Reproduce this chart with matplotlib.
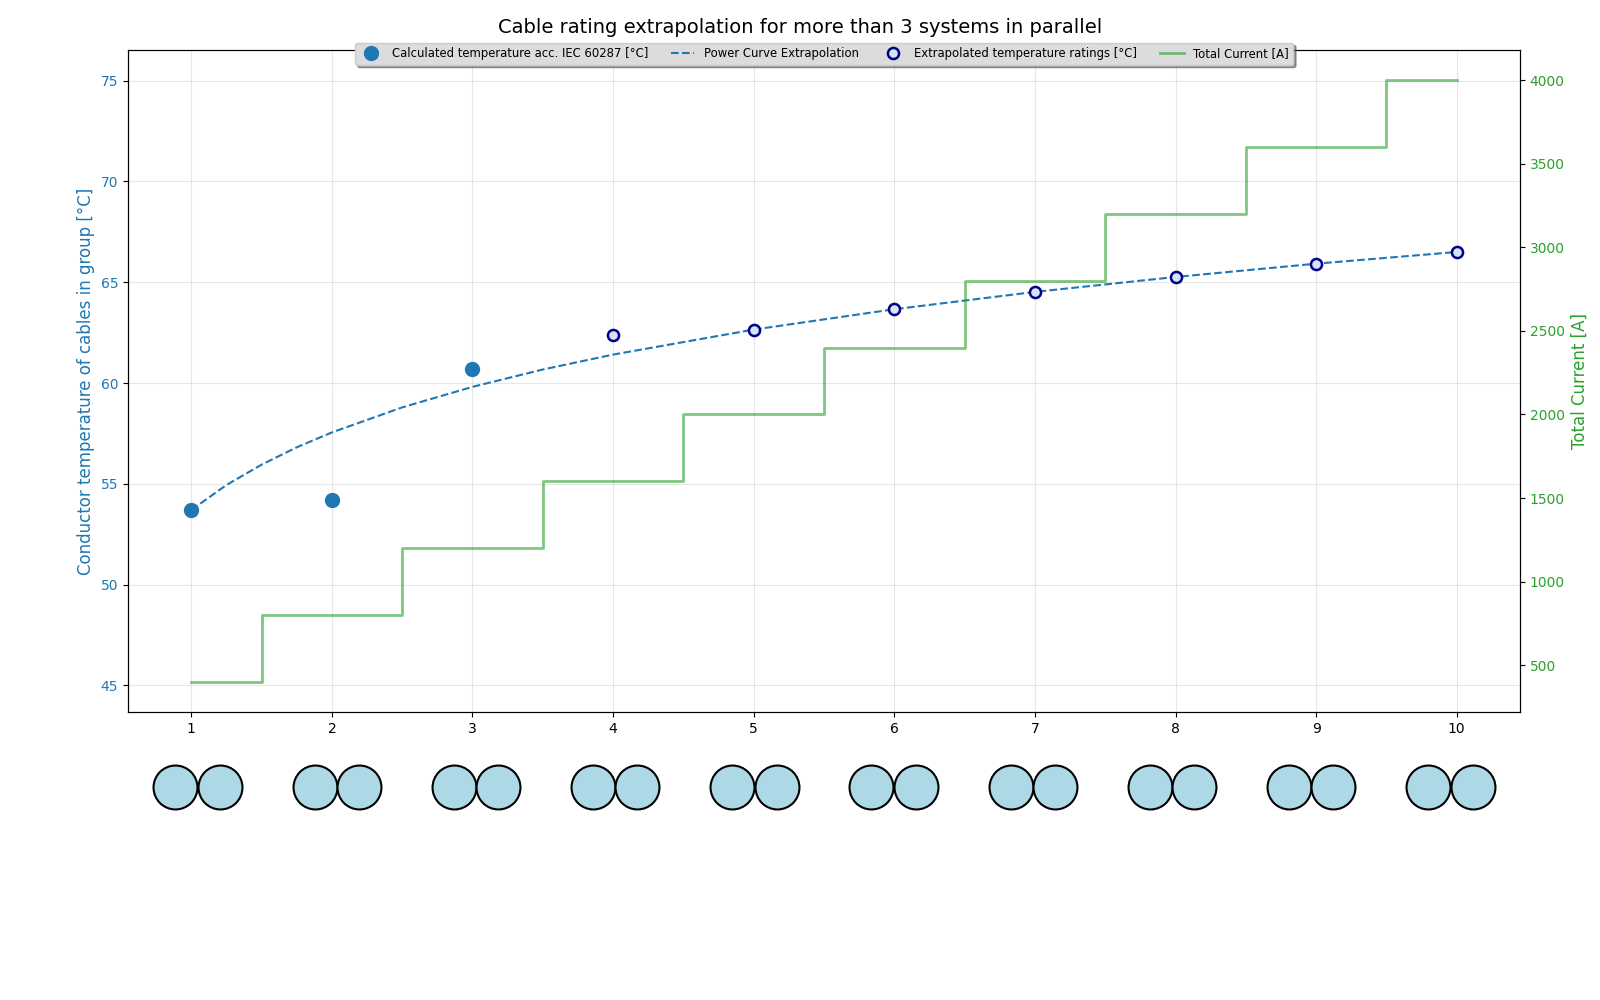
import numpy as np
import matplotlib
matplotlib.use("Agg")
import matplotlib.pyplot as plt

# number of systems in parallel
n_systems = [1, 2, 3, 4, 5, 6, 7, 8, 9, 10]

# calculated temperatures (IEC 60287) for 1..3 systems
calc_x = [1, 2, 3]
calc_temp = [53.7, 54.2, 60.7]

# extrapolated ratings for 4..10 systems
extra_x = [4, 5, 6, 7, 8, 9, 10]
extra_temp = [62.4, 62.65, 63.65, 64.5, 65.25, 65.9, 66.5]

# power curve
curve_x = [1, 1.25, 1.5, 1.75, 2, 2.5, 3, 3.5, 4, 5, 6, 7, 8, 9, 10]
curve_temp = [53.7, 54.94, 55.95, 56.81, 57.55, 58.79, 59.81, 60.67,
              61.41, 62.65, 63.66, 64.52, 65.26, 65.92, 66.5]

# total current [A]
total_current = [400, 800, 1200, 1600, 2000, 2400, 2800, 3200, 3600, 4000]

# two cables drawn per group below the chart
cable_offsets = [-0.16, 0.16]

fig = plt.figure(figsize=(16, 10), dpi=100)
ax1 = fig.add_axes([0.080, 0.288, 0.870, 0.662])
ax2 = ax1.twinx()

ax1.plot(calc_x, calc_temp, "o", color="tab:blue", markersize=10,
         label="Calculated temperature acc. IEC 60287 [°C]", zorder=3)
ax1.plot(curve_x, curve_temp, "--", color="tab:blue", linewidth=1.5,
         label="Power Curve Extrapolation", zorder=2)
ax1.plot(extra_x, extra_temp, "o", markersize=8, markerfacecolor="#d3e4f3",
         markeredgecolor="darkblue", markeredgewidth=1.8, linestyle="none",
         label="Extrapolated temperature ratings [°C]", zorder=3)

ax2.step(n_systems, total_current, where="mid", color="tab:green", alpha=0.6,
         linewidth=2, label="Total Current [A]")

ax1.set_xlim(0.55, 10.45)
ax1.set_ylim(43.68, 76.52)
ax1.set_xticks(n_systems)
ax1.set_ylabel("Conductor temperature of cables in group [°C]", color="tab:blue", fontsize=12)
ax1.tick_params(axis="y", labelcolor="tab:blue")
ax2.set_ylabel("Total Current [A]", color="#2ca02c", fontsize=12)
ax2.tick_params(axis="y", labelcolor="#2ca02c")
ax1.grid(True, alpha=0.3)

fig.suptitle("Cable rating extrapolation for more than 3 systems in parallel",
             fontsize=14, x=0.5, y=0.982)

h1, l1 = ax1.get_legend_handles_labels()
h2, l2 = ax2.get_legend_handles_labels()
leg = ax2.legend(h1 + h2, l1 + l2, loc="upper center", bbox_to_anchor=(0.5, 1.02),
                 ncol=4, fontsize="small", fancybox=True, shadow=True,
                 facecolor="#dcdcdc", framealpha=1.0)
leg.set_zorder(10)

# cable cross-sections under each x position
ax3 = fig.add_axes([0.080, 0.168, 0.870, 0.09])
for x in n_systems:
    for off in cable_offsets:
        ax3.scatter(x + off, 0, s=1000, facecolor="lightblue",
                    edgecolor="black", linewidth=1.5)
ax3.set_ylim(-1, 1)
ax3.set_xlim(0.5, 10.5)
ax3.axis("off")

fig.savefig("out.png", dpi=100)
